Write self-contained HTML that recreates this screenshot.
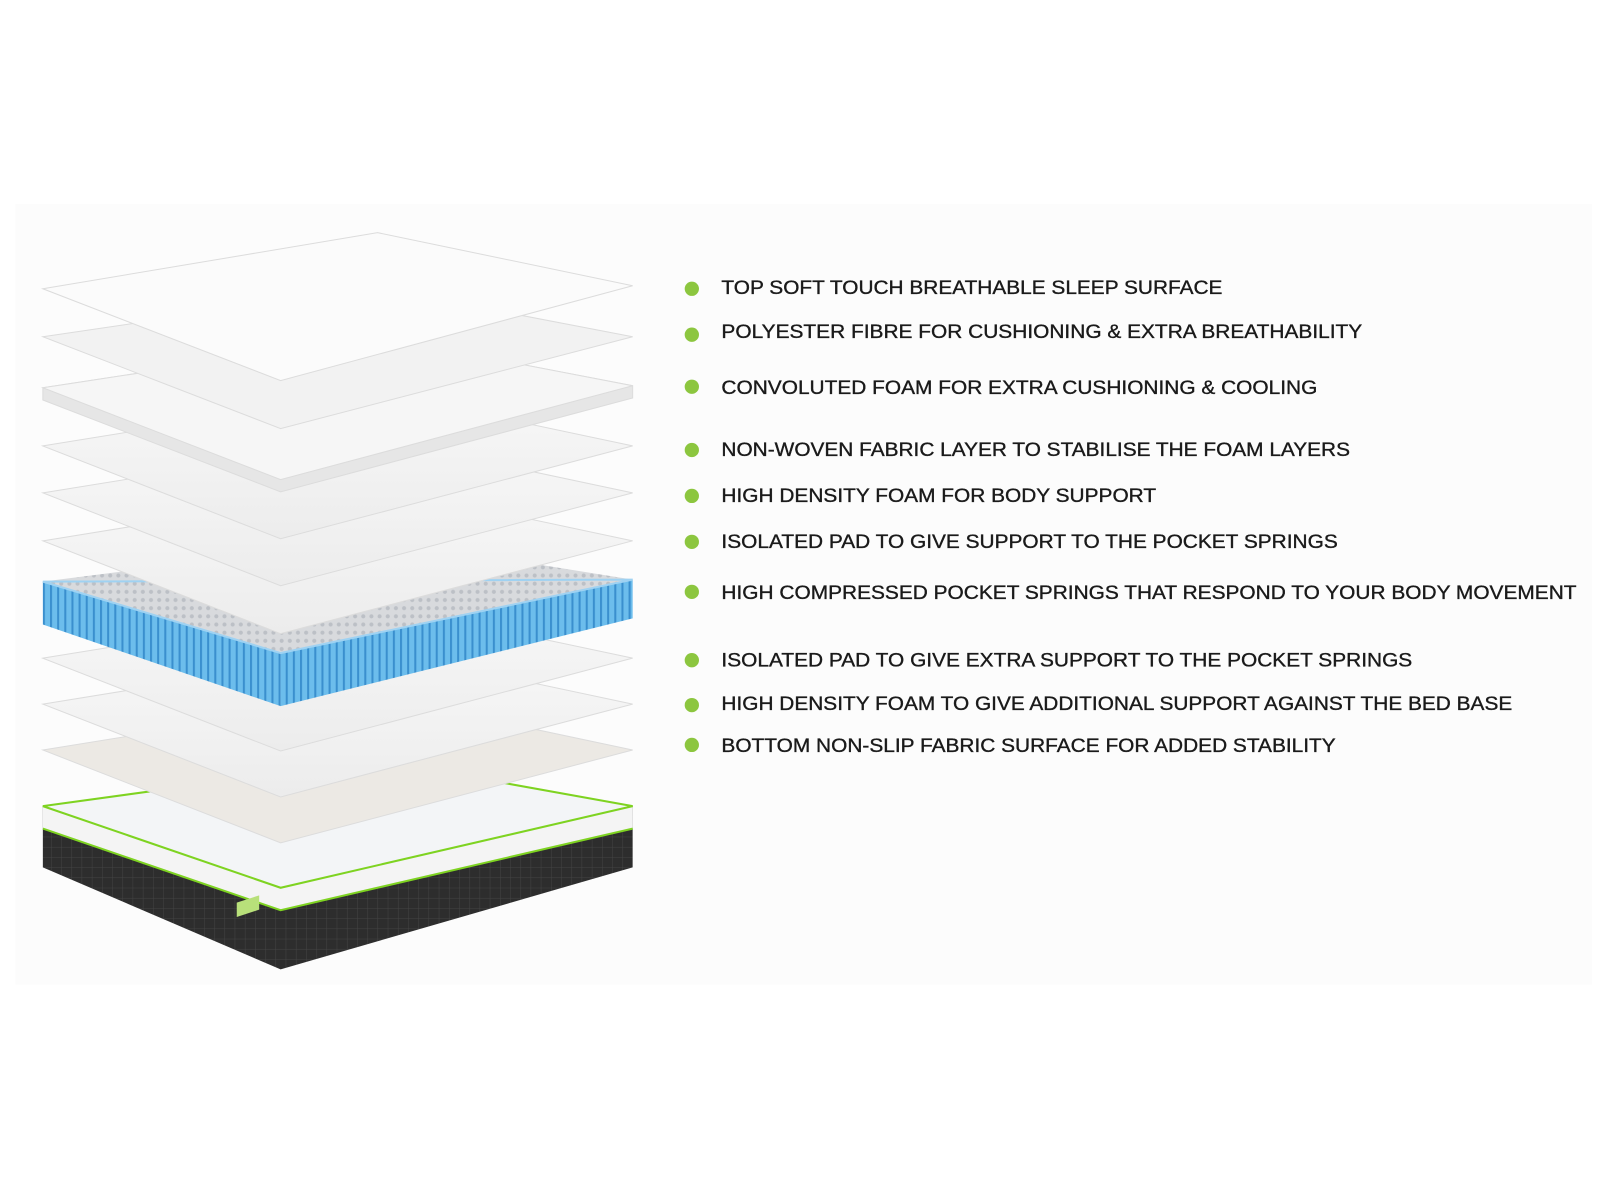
<!DOCTYPE html>
<html><head><meta charset="utf-8"><style>
html,body{margin:0;padding:0;background:#fff;width:1600px;height:1200px;overflow:hidden}
svg{display:block}
</style></head><body>
<svg width="1600" height="1200" viewBox="0 0 1568 1176" xmlns="http://www.w3.org/2000/svg">
<defs>
<linearGradient id="sh" x1="0" y1="0" x2="0" y2="1">
<stop offset="0" stop-color="#f8f8f8"/><stop offset="1" stop-color="#ececec"/></linearGradient>
<pattern id="stripes" width="7" height="10" patternUnits="userSpaceOnUse">
<rect width="7" height="10" fill="#6cbdec"/><rect width="2" height="10" fill="#3a8fce"/></pattern>
<pattern id="dots" width="8" height="8" patternUnits="userSpaceOnUse">
<rect width="8" height="8" fill="#d8dadd"/><circle cx="4" cy="4" r="2" fill="#bcc0c6"/></pattern>
<pattern id="grid" width="10" height="10" patternUnits="userSpaceOnUse">
<rect width="10" height="10" fill="#2d2d2d"/><path d="M0 0H10M0 0V10" stroke="#444" stroke-width="1"/></pattern>
</defs>
<rect x="15" y="200" width="1545" height="765" fill="#fcfcfc"/>

<polygon points="42,790 42,850 275,950 620,850 620,790 275,870" fill="url(#grid)"/>
<polygon points="42,790 42,812 275,892 620,812 620,790 275,870" fill="#f4f4f4"/>
<polyline points="42,812 275,892 620,812" fill="none" stroke="#7ed321" stroke-width="2"/>
<polygon points="42,790 370,745 620,790 275,870" fill="#f3f5f7" stroke="#7ed321" stroke-width="2"/>
<rect x="232" y="882" width="22" height="14" fill="#b8e07a" transform="skewY(-18) translate(0,78)"/>

<g stroke="#dcdcdc" stroke-width="1">
<polygon points="42,735 370,682 620,735 275,826" fill="#ece9e4"/>
<polygon points="42,690 370,637 620,690 275,781" fill="url(#sh)"/>
<polygon points="42,645 370,592 620,645 275,736" fill="url(#sh)"/>
</g>

<polygon points="42,570 370,528 620,568 275,640" fill="url(#dots)"/>
<polygon points="42,570 275,640 275,692 42,612" fill="url(#stripes)"/>
<polygon points="275,640 620,568 620,606 275,692" fill="url(#stripes)"/>
<polygon points="42,570 275,640 620,568" fill="none" stroke="#9fd2f2" stroke-width="2"/>

<g stroke="#dcdcdc" stroke-width="1">
<polygon points="42,530 370,477 620,530 275,621" fill="url(#sh)"/>
<polygon points="42,483 370,430 620,483 275,574" fill="url(#sh)"/>
<polygon points="42,437 370,384 620,437 275,528" fill="url(#sh)"/>
<polygon points="42,380 370,330 620,378 620,390 275,482 42,392" fill="#e6e6e6"/>
<polygon points="42,380 370,330 620,378 275,470" fill="#f6f6f6"/>
<polygon points="42,330 370,282 620,330 275,420" fill="#f2f2f2"/>
<polygon points="42,283 370,228 620,280 275,373" fill="#fbfbfb"/>
</g>

<g fill="#8cc63f">
<circle cx="678" cy="283" r="7"/><circle cx="678" cy="328" r="7"/><circle cx="678" cy="379" r="7"/>
<circle cx="678" cy="441" r="7"/><circle cx="678" cy="486" r="7"/><circle cx="678" cy="531" r="7"/>
<circle cx="678" cy="580" r="7"/><circle cx="678" cy="647" r="7"/><circle cx="678" cy="691" r="7"/>
<circle cx="678" cy="730" r="7"/>
</g>
<g font-family="Liberation Sans, Arial, sans-serif" font-size="19" fill="#1a1a1a" stroke="#1a1a1a" stroke-width="0.35">
<text x="707" y="288" textLength="491" lengthAdjust="spacingAndGlyphs">TOP SOFT TOUCH BREATHABLE SLEEP SURFACE</text>
<text x="707" y="331" textLength="628" lengthAdjust="spacingAndGlyphs">POLYESTER FIBRE FOR CUSHIONING &amp; EXTRA BREATHABILITY</text>
<text x="707" y="386" textLength="584" lengthAdjust="spacingAndGlyphs">CONVOLUTED FOAM FOR EXTRA CUSHIONING &amp; COOLING</text>
<text x="707" y="447" textLength="616" lengthAdjust="spacingAndGlyphs">NON-WOVEN FABRIC LAYER TO STABILISE THE FOAM LAYERS</text>
<text x="707" y="492" textLength="426" lengthAdjust="spacingAndGlyphs">HIGH DENSITY FOAM FOR BODY SUPPORT</text>
<text x="707" y="537" textLength="604" lengthAdjust="spacingAndGlyphs">ISOLATED PAD TO GIVE SUPPORT TO THE POCKET SPRINGS</text>
<text x="707" y="587" textLength="838" lengthAdjust="spacingAndGlyphs">HIGH COMPRESSED POCKET SPRINGS THAT RESPOND TO YOUR BODY MOVEMENT</text>
<text x="707" y="653" textLength="677" lengthAdjust="spacingAndGlyphs">ISOLATED PAD TO GIVE EXTRA SUPPORT TO THE POCKET SPRINGS</text>
<text x="707" y="696" textLength="775" lengthAdjust="spacingAndGlyphs">HIGH DENSITY FOAM TO GIVE ADDITIONAL SUPPORT AGAINST THE BED BASE</text>
<text x="707" y="737" textLength="602" lengthAdjust="spacingAndGlyphs">BOTTOM NON-SLIP FABRIC SURFACE FOR ADDED STABILITY</text>
</g>
</svg>
</body></html>
